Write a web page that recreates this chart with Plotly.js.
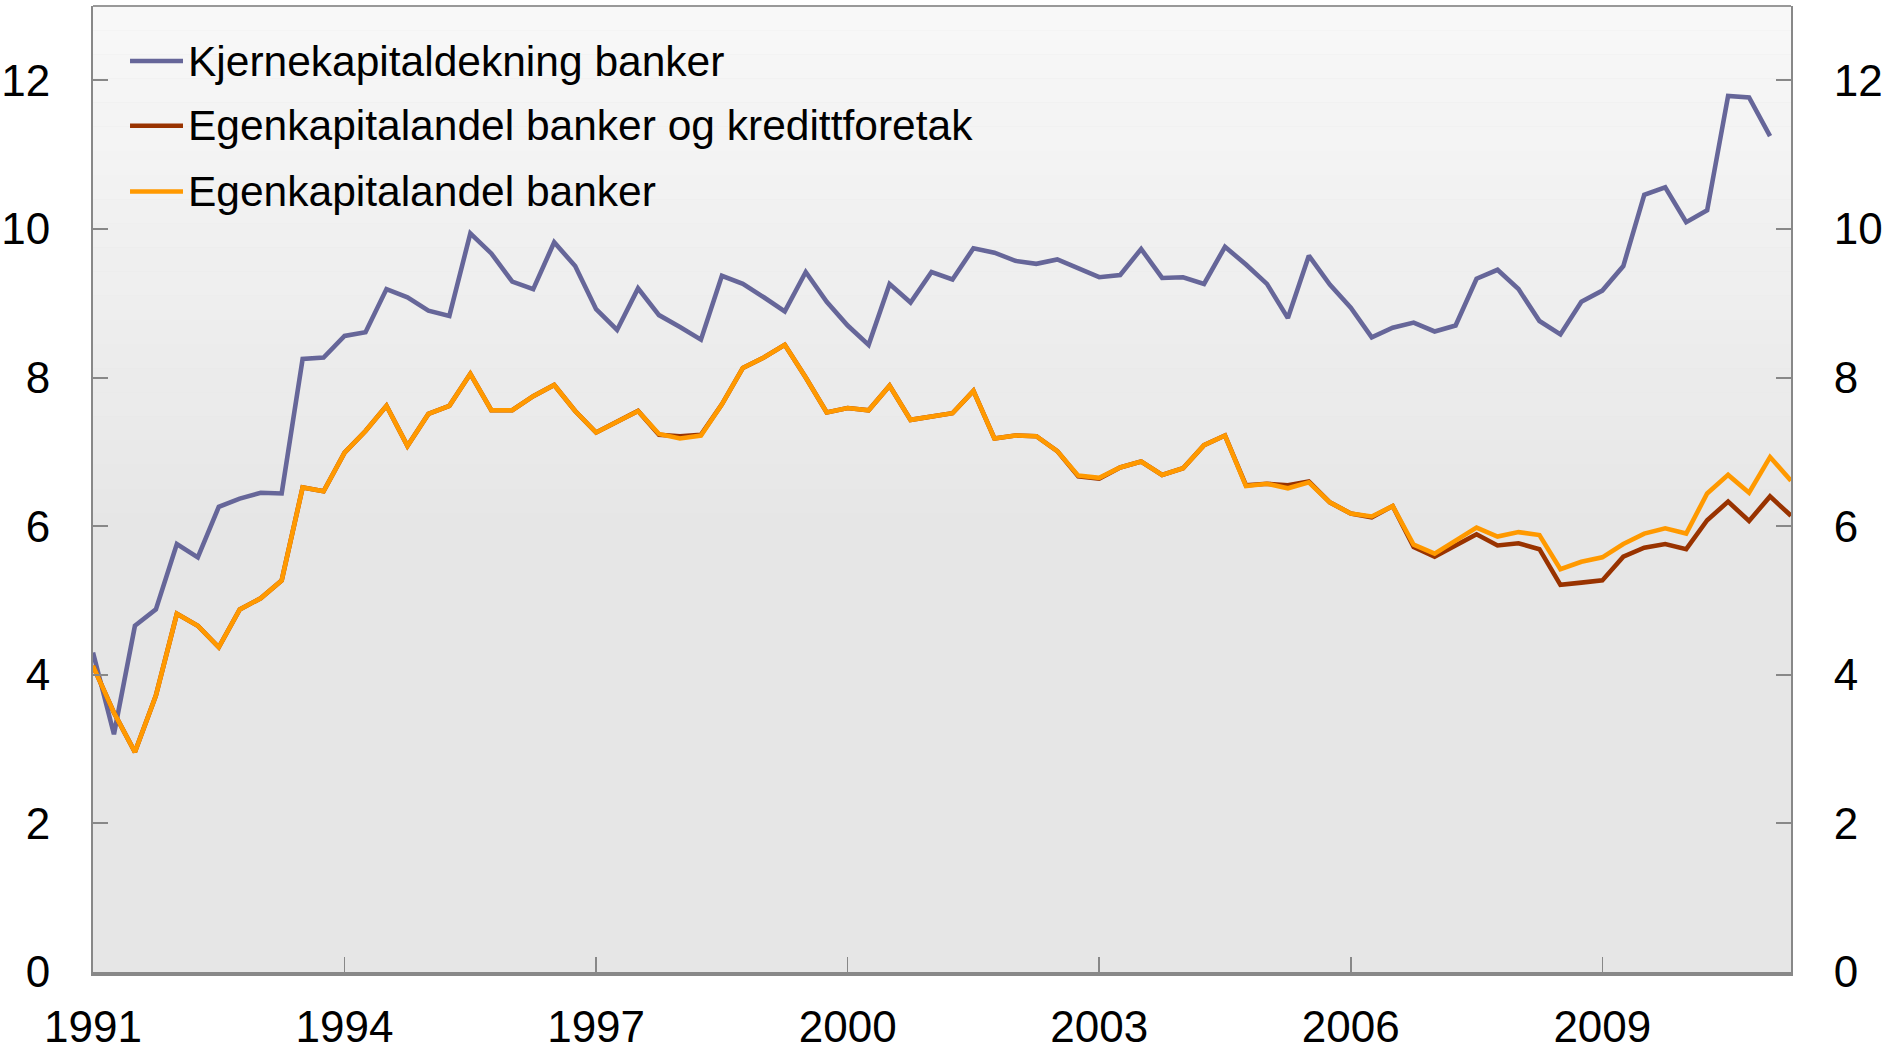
<!DOCTYPE html>
<html>
<head>
<meta charset="utf-8">
<script src="https://cdn.plot.ly/plotly-3.0.1.min.js"></script>
<style>
html,body{margin:0;padding:0;background:#fff;}
#chart{width:1883px;height:1052px;}
</style>
</head>
<body>
<div id="chart"></div>
<script>
// Quarterly data, first quarter 1991 onward
const startYear = 1991;
const seriesNames = [
  "Kjernekapitaldekning banker",
  "Egenkapitalandel banker og kredittforetak",
  "Egenkapitalandel banker"
];
const kjernekapital = [
  4.30, 3.20, 4.66, 4.88, 5.76, 5.58, 6.26, 6.37, 6.45, 6.44,
  8.25, 8.27, 8.56, 8.61, 9.19, 9.08, 8.90, 8.83, 9.94, 9.67,
  9.29, 9.19, 9.82, 9.50, 8.92, 8.64, 9.20, 8.84, 8.68, 8.51,
  9.37, 9.26, 9.08, 8.89, 9.42, 9.02, 8.70, 8.44, 9.26, 9.01,
  9.42, 9.32, 9.74, 9.68, 9.57, 9.53, 9.59, 9.47, 9.35, 9.38,
  9.73, 9.34, 9.35, 9.26, 9.76, 9.52, 9.26, 8.80, 9.64, 9.25,
  8.94, 8.54, 8.67, 8.74, 8.62, 8.70, 9.33, 9.45, 9.19, 8.76,
  8.58, 9.02, 9.17, 9.50, 10.46, 10.56, 10.09, 10.25, 11.79, 11.77,
  11.25
];
const egenkapitalBankerKreditt = [
  4.12, 3.49, 2.96, 3.72, 4.82, 4.66, 4.37, 4.88, 5.03, 5.27,
  6.52, 6.47, 6.99, 7.28, 7.62, 7.08, 7.51, 7.62, 8.05, 7.56,
  7.56, 7.75, 7.90, 7.55, 7.26, 7.40, 7.55, 7.23, 7.21, 7.23,
  7.64, 8.13, 8.27, 8.44, 8.00, 7.53, 7.59, 7.56, 7.89, 7.43,
  7.48, 7.52, 7.82, 7.18, 7.22, 7.21, 7.01, 6.67, 6.64, 6.79,
  6.87, 6.69, 6.78, 7.09, 7.22, 6.55, 6.57, 6.55, 6.60, 6.32,
  6.17, 6.12, 6.27, 5.72, 5.59, 5.74, 5.89, 5.74, 5.77, 5.69,
  5.21, 5.24, 5.27, 5.59, 5.71, 5.76, 5.69, 6.08, 6.33, 6.07,
  6.40, 6.14
];
const egenkapitalBanker = [
  4.12, 3.49, 2.96, 3.72, 4.82, 4.66, 4.37, 4.88, 5.03, 5.27,
  6.52, 6.47, 6.99, 7.28, 7.62, 7.08, 7.51, 7.62, 8.05, 7.56,
  7.56, 7.75, 7.90, 7.55, 7.26, 7.40, 7.55, 7.24, 7.18, 7.22,
  7.64, 8.13, 8.27, 8.44, 8.00, 7.53, 7.59, 7.56, 7.89, 7.43,
  7.48, 7.52, 7.82, 7.18, 7.22, 7.21, 7.01, 6.68, 6.65, 6.79,
  6.87, 6.69, 6.78, 7.09, 7.22, 6.54, 6.57, 6.51, 6.59, 6.32,
  6.17, 6.13, 6.27, 5.75, 5.63, 5.81, 5.98, 5.86, 5.92, 5.88,
  5.42, 5.52, 5.58, 5.76, 5.90, 5.97, 5.90, 6.44, 6.69, 6.45,
  6.93, 6.61
];
const xTickYears = [1991, 1994, 1997, 2000, 2003, 2006, 2009];
const yTicks = [0, 2, 4, 6, 8, 10, 12];
const colors = ["#666699", "#993300", "#FF9900"];

function quarterX(arr) { return arr.map((_, i) => startYear + i / 4); }

const allSeries = [kjernekapital, egenkapitalBankerKreditt, egenkapitalBanker];
const traces = allSeries.map((vals, k) => ({
  type: "scatter",
  mode: "lines",
  name: seriesNames[k],
  x: quarterX(vals),
  y: vals,
  xaxis: "x",
  yaxis: k === 2 ? "y2" : "y",
  line: { color: colors[k], width: 4.6 },
  showlegend: false,
  hoverinfo: "x+y+name"
}));

const shapes = [];
// background gradient bands (styling only)
const nBands = 40;
function lerp(a, b, t) { return Math.round(a + (b - a) * t); }
for (let b = 0; b < nBands; b++) {
  const y0 = 1 - (b + 1) / nBands, y1 = 1 - b / nBands;
  const t = Math.min(1, (b + 0.5) / (nBands * 0.55));
  const c = lerp(248, 230, t);
  shapes.push({
    type: "rect", xref: "paper", yref: "paper", x0: 0, x1: 1, y0: y0, y1: y1,
    fillcolor: `rgb(${c},${c},${c})`, line: { width: 0 }, layer: "below"
  });
}
// top frame line
shapes.push({ type: "line", xref: "paper", yref: "paper", x0: 0, x1: 1, y0: 1, y1: 1,
  line: { color: "#999999", width: 2 } });

// legend (drawn as line samples + text labels)
const legendRowsY = [0.943, 0.876, 0.808];
const legendFont = { family: "Liberation Sans, Arial, sans-serif", size: 42.5, color: "#000" };
const annotations = [];
seriesNames.forEach((nm, k) => {
  shapes.push({ type: "line", xref: "paper", yref: "paper",
    x0: 0.0218, x1: 0.0530, y0: legendRowsY[k], y1: legendRowsY[k],
    line: { color: colors[k], width: 4.6 } });
  annotations.push({ xref: "paper", yref: "paper", x: 0.0555, y: legendRowsY[k],
    xanchor: "left", yanchor: "middle", text: nm, showarrow: false,
    font: legendFont, borderpad: 0 });
});

const tickFont = { family: "Liberation Sans, Arial, sans-serif", size: 44, color: "#000" };

const yAxisCommon = {
  range: [0, 13],
  tickmode: "array", tickvals: yTicks,
  ticks: "inside", ticklen: 15, tickwidth: 2, tickcolor: "#888888",
  showline: true, linecolor: "#888888", linewidth: 2,
  showgrid: false, zeroline: false,
  tickfont: tickFont, ticklabelstandoff: 32
};

const layout = {
  width: 1883, height: 1052,
  margin: { l: 93, r: 92, t: 6, b: 80, pad: 0 },
  paper_bgcolor: "#ffffff",
  plot_bgcolor: "#e6e6e6",
  font: tickFont,
  showlegend: false,
  xaxis: {
    range: [1991, 2011.25],
    tickmode: "array", tickvals: xTickYears, ticktext: xTickYears.map(String),
    ticks: "inside", ticklen: 15, tickwidth: 1.5, tickcolor: "#888888",
    showline: true, linecolor: "#888888", linewidth: 4,
    showgrid: false, zeroline: false,
    tickfont: tickFont, ticklabelstandoff: 13
  },
  yaxis: Object.assign({ side: "left" }, yAxisCommon),
  yaxis2: Object.assign({ overlaying: "y", side: "right", anchor: "x" }, yAxisCommon),
  shapes: shapes,
  annotations: annotations
};

Plotly.newPlot("chart", traces, layout, { displayModeBar: false, staticPlot: true });
</script>
</body>
</html>
